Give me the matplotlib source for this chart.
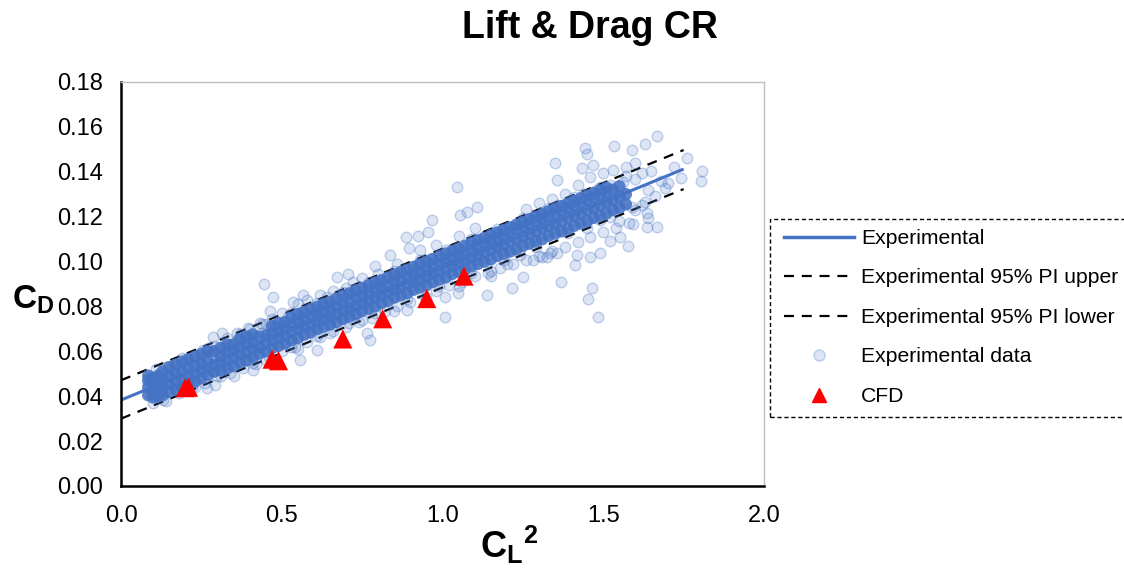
import numpy as np
import matplotlib
matplotlib.use("Agg")
import matplotlib.pyplot as plt
from matplotlib.lines import Line2D
from matplotlib.patches import Rectangle

plt.rcParams["font.family"] = ["Liberation Sans", "DejaVu Sans"]
plt.rcParams["mathtext.fontset"] = "custom"
plt.rcParams["mathtext.rm"] = "Liberation Sans"
plt.rcParams["mathtext.bf"] = "Liberation Sans:bold"

# Regression line and 95% prediction interval (CL^2 -> CD)
fit_x = [0.0, 1.75]
fit_y = [0.0383, 0.1412]
pi_upper_y = [0.0471, 0.1497]
pi_lower_y = [0.0300, 0.1323]

# CFD results
cfd_x = [0.200, 0.210, 0.470, 0.490, 0.690, 0.814, 0.951, 1.067]
cfd_y = [0.0438, 0.0440, 0.0565, 0.0558, 0.0655, 0.0745, 0.0835, 0.0935]

# Experimental data: dense core of the measurements
core_pts = [
    (0.085, 0.0405), (0.085, 0.0440), (0.085, 0.0470), (0.085, 0.0491),
    (0.100, 0.0395), (0.100, 0.0425), (0.100, 0.0455), (0.100, 0.0480),
    (0.115, 0.0400), (0.115, 0.0435), (0.115, 0.0465), (0.115, 0.0490),
    (0.130, 0.0405), (0.130, 0.0440), (0.130, 0.0475), (0.130, 0.0510),
    (0.150, 0.0420), (0.150, 0.0455), (0.150, 0.0490), (0.150, 0.0529),
    (0.170, 0.0430), (0.170, 0.0465), (0.170, 0.0500), (0.170, 0.0541),
    (0.190, 0.0440), (0.190, 0.0475), (0.190, 0.0510), (0.190, 0.0553),
    (0.210, 0.0455), (0.210, 0.0490), (0.210, 0.0525), (0.210, 0.0564),
    (0.230, 0.0465), (0.230, 0.0500), (0.230, 0.0535), (0.230, 0.0576),
    (0.250, 0.0480), (0.250, 0.0515), (0.250, 0.0545), (0.250, 0.0588),
    (0.270, 0.0495), (0.270, 0.0525), (0.270, 0.0555), (0.270, 0.0600),
    (0.290, 0.0510), (0.290, 0.0540), (0.290, 0.0600),
    (0.310, 0.0515), (0.310, 0.0550), (0.310, 0.0580), (0.310, 0.0615),
    (0.330, 0.0525), (0.330, 0.0560), (0.330, 0.0595), (0.330, 0.0630),
    (0.350, 0.0535), (0.350, 0.0570), (0.350, 0.0605), (0.350, 0.0630),
    (0.370, 0.0550), (0.370, 0.0585), (0.370, 0.0620), (0.370, 0.0655),
    (0.390, 0.0560), (0.390, 0.0595), (0.390, 0.0630), (0.390, 0.0665),
    (0.410, 0.0575), (0.410, 0.0610), (0.410, 0.0640), (0.410, 0.0675),
    (0.430, 0.0590), (0.430, 0.0620), (0.430, 0.0665),
    (0.450, 0.0600), (0.450, 0.0635), (0.450, 0.0670),
    (0.470, 0.0615), (0.470, 0.0650), (0.470, 0.0680), (0.470, 0.0712),
    (0.490, 0.0625), (0.490, 0.0660), (0.490, 0.0695), (0.490, 0.0725),
    (0.510, 0.0635), (0.510, 0.0670), (0.510, 0.0705), (0.510, 0.0730),
    (0.530, 0.0650), (0.530, 0.0685), (0.530, 0.0720), (0.530, 0.0750),
    (0.550, 0.0660), (0.550, 0.0700), (0.550, 0.0735), (0.550, 0.0765),
    (0.570, 0.0675), (0.570, 0.0710), (0.570, 0.0745), (0.570, 0.0775),
    (0.590, 0.0685), (0.590, 0.0720), (0.590, 0.0755), (0.590, 0.0788),
    (0.610, 0.0700), (0.610, 0.0735), (0.610, 0.0765), (0.610, 0.0798),
    (0.630, 0.0710), (0.630, 0.0745), (0.630, 0.0780), (0.630, 0.0810),
    (0.650, 0.0720), (0.650, 0.0755), (0.650, 0.0785), (0.650, 0.0820),
    (0.670, 0.0730), (0.670, 0.0765), (0.670, 0.0800), (0.670, 0.0835),
    (0.690, 0.0745), (0.690, 0.0780), (0.690, 0.0815), (0.690, 0.0847),
    (0.710, 0.0755), (0.710, 0.0790), (0.710, 0.0825), (0.710, 0.0858),
    (0.730, 0.0765), (0.730, 0.0800), (0.730, 0.0840), (0.730, 0.0872),
    (0.750, 0.0780), (0.750, 0.0815), (0.750, 0.0850), (0.750, 0.0882),
    (0.770, 0.0790), (0.770, 0.0825), (0.770, 0.0860), (0.770, 0.0894),
    (0.790, 0.0800), (0.790, 0.0840), (0.790, 0.0875), (0.790, 0.0906),
    (0.810, 0.0815), (0.810, 0.0850), (0.810, 0.0885), (0.810, 0.0917),
    (0.830, 0.0825), (0.830, 0.0860), (0.830, 0.0895), (0.830, 0.0929),
    (0.850, 0.0840), (0.850, 0.0875), (0.850, 0.0910), (0.850, 0.0941),
    (0.870, 0.0850), (0.870, 0.0885), (0.870, 0.0920), (0.870, 0.0953),
    (0.890, 0.0860), (0.890, 0.0900), (0.890, 0.0935), (0.890, 0.0964),
    (0.910, 0.0875), (0.910, 0.0910), (0.910, 0.0945), (0.910, 0.0976),
    (0.930, 0.0885), (0.930, 0.0920), (0.930, 0.0955), (0.930, 0.0988),
    (0.950, 0.0895), (0.950, 0.0935), (0.950, 0.0970), (0.950, 0.1000),
    (0.970, 0.0910), (0.970, 0.0945), (0.970, 0.0980), (0.970, 0.1011),
    (0.990, 0.0920), (0.990, 0.0955), (0.990, 0.0990), (0.990, 0.1023),
    (1.010, 0.0930), (1.010, 0.0970), (1.010, 0.1005), (1.010, 0.1035),
    (1.030, 0.0945), (1.030, 0.0980), (1.030, 0.1015), (1.030, 0.1047),
    (1.050, 0.0955), (1.050, 0.0995), (1.050, 0.1030), (1.050, 0.1058),
    (1.070, 0.0965), (1.070, 0.1005), (1.070, 0.1040), (1.070, 0.1070),
    (1.090, 0.0980), (1.090, 0.1015), (1.090, 0.1050), (1.090, 0.1082),
    (1.110, 0.0990), (1.110, 0.1030), (1.110, 0.1065), (1.110, 0.1094),
    (1.130, 0.1000), (1.130, 0.1040), (1.130, 0.1080), (1.130, 0.1105),
    (1.150, 0.1010), (1.150, 0.1055), (1.150, 0.1095), (1.150, 0.1117),
    (1.170, 0.1025), (1.170, 0.1065), (1.170, 0.1105), (1.170, 0.1129),
    (1.190, 0.1035), (1.190, 0.1075), (1.190, 0.1115), (1.190, 0.1141),
    (1.210, 0.1045), (1.210, 0.1090), (1.210, 0.1130), (1.210, 0.1152),
    (1.230, 0.1055), (1.230, 0.1100), (1.230, 0.1145), (1.230, 0.1164),
    (1.250, 0.1070), (1.250, 0.1110), (1.250, 0.1155), (1.250, 0.1176),
    (1.270, 0.1080), (1.270, 0.1125), (1.270, 0.1165), (1.270, 0.1188),
    (1.290, 0.1090), (1.290, 0.1135), (1.290, 0.1180), (1.290, 0.1200),
    (1.310, 0.1100), (1.310, 0.1150), (1.310, 0.1190), (1.310, 0.1211),
    (1.330, 0.1115), (1.330, 0.1160), (1.330, 0.1200), (1.330, 0.1223),
    (1.350, 0.1125), (1.350, 0.1170), (1.350, 0.1215), (1.350, 0.1235),
    (1.370, 0.1135), (1.370, 0.1180), (1.370, 0.1225), (1.370, 0.1247),
    (1.390, 0.1145), (1.390, 0.1195), (1.390, 0.1240), (1.390, 0.1258),
    (1.410, 0.1160), (1.410, 0.1205), (1.410, 0.1250), (1.410, 0.1270),
    (1.430, 0.1170), (1.430, 0.1215), (1.430, 0.1260), (1.430, 0.1282),
    (1.450, 0.1180), (1.450, 0.1230), (1.450, 0.1275), (1.450, 0.1294),
    (1.470, 0.1195), (1.470, 0.1240), (1.470, 0.1285), (1.470, 0.1305),
    (1.490, 0.1205), (1.490, 0.1250), (1.490, 0.1295), (1.490, 0.1317),
    (1.510, 0.1215), (1.510, 0.1265), (1.510, 0.1310), (1.510, 0.1329),
    (1.530, 0.1230), (1.530, 0.1275), (1.530, 0.1320),
    (1.550, 0.1240), (1.550, 0.1290), (1.550, 0.1335),
    (1.570, 0.1255), (1.570, 0.1300),
]

# Experimental data: points around the edge of the band
edge_pts = [
    (0.10, 0.0370), (0.12, 0.0505), (0.14, 0.0380), (0.16, 0.0520),
    (0.18, 0.0415), (0.20, 0.0545), (0.22, 0.0440), (0.24, 0.0565),
    (0.26, 0.0460), (0.28, 0.0590), (0.30, 0.0490), (0.32, 0.0620),
    (0.34, 0.0505), (0.36, 0.0650), (0.38, 0.0525), (0.40, 0.0665),
    (0.42, 0.0545), (0.44, 0.0680), (0.46, 0.0575), (0.48, 0.0715),
    (0.50, 0.0600), (0.52, 0.0755), (0.54, 0.0620), (0.56, 0.0775),
    (0.58, 0.0640), (0.60, 0.0790), (0.62, 0.0665), (0.64, 0.0810),
    (0.66, 0.0690), (0.68, 0.0835), (0.70, 0.0710), (0.72, 0.0860),
    (0.74, 0.0730), (0.76, 0.0880), (0.78, 0.0750), (0.80, 0.0905),
    (0.82, 0.0780), (0.84, 0.0935), (0.86, 0.0800), (0.88, 0.0960),
    (0.90, 0.0820), (0.92, 0.0985), (0.94, 0.0850), (0.96, 0.1010),
    (0.98, 0.0870), (1.00, 0.1030), (1.02, 0.0895), (1.04, 0.1055),
    (1.06, 0.0910), (1.08, 0.1075), (1.10, 0.0935), (1.12, 0.1100),
    (1.14, 0.0950), (1.16, 0.1125), (1.18, 0.0970), (1.20, 0.1150),
    (1.22, 0.0990), (1.24, 0.1175), (1.26, 0.1005), (1.28, 0.1200),
    (1.30, 0.1025), (1.32, 0.1225), (1.34, 0.1045), (1.36, 0.1250),
    (1.38, 0.1065), (1.40, 0.1275), (1.42, 0.1085), (1.44, 0.1300),
    (1.46, 0.1110), (1.48, 0.1320), (1.50, 0.1130), (1.52, 0.1340),
    (1.54, 0.1150), (1.56, 0.1355), (1.58, 0.1170), (1.60, 0.1370),
    (1.62, 0.1250), (1.64, 0.1320), (1.66, 0.1290), (1.68, 0.1360),
    (1.70, 0.1350), (1.72, 0.1420),
    (1.42, 0.1340), (1.46, 0.1375), (1.50, 0.1395), (1.53, 0.1410),
    (1.57, 0.1420), (1.60, 0.1440), (1.62, 0.1395), (1.65, 0.1405),
    (1.55, 0.1180), (1.60, 0.1230), (1.63, 0.1265), (1.52, 0.1200),
    (1.45, 0.1150), (1.38, 0.1300), (1.34, 0.1280), (1.30, 0.1260),
    (1.26, 0.1235), (1.24, 0.1030), (1.20, 0.0990), (1.15, 0.0935),
    (1.10, 0.1150), (1.05, 0.1115), (0.98, 0.1075), (0.93, 0.1050),
    (0.86, 0.0990), (0.80, 0.0945), (0.75, 0.0925), (0.70, 0.0880),
    (0.66, 0.0870), (0.62, 0.0850), (0.58, 0.0830), (0.55, 0.0810),
    (0.50, 0.0770), (0.47, 0.0745), (0.44, 0.0720), (0.40, 0.0700),
    (0.36, 0.0680), (0.33, 0.0660), (0.29, 0.0625), (0.26, 0.0600),
    (0.23, 0.0580), (0.20, 0.0565), (0.17, 0.0545), (0.14, 0.0530),
    (0.35, 0.0490), (0.45, 0.0560), (0.55, 0.0610), (0.65, 0.0680),
    (0.75, 0.0740), (0.85, 0.0780), (0.95, 0.0840), (1.05, 0.0890),
    (1.15, 0.0960),
    (0.11, 0.0523), (0.19, 0.0570), (0.27, 0.0617), (0.37, 0.0676),
    (0.45, 0.0723), (0.53, 0.0770), (0.61, 0.0817), (0.69, 0.0864),
    (0.77, 0.0911), (0.85, 0.0958), (0.93, 0.1005), (1.01, 0.1052),
    (1.09, 0.1099), (1.17, 0.1146), (1.25, 0.1193), (1.33, 0.1240),
    (1.41, 0.1287), (1.49, 0.1334), (1.57, 0.1381),
    (0.13, 0.0384), (0.23, 0.0443), (0.31, 0.0490), (0.41, 0.0549),
    (0.53, 0.0620), (0.61, 0.0667), (0.71, 0.0725), (0.79, 0.0773),
    (0.89, 0.0831), (0.99, 0.0890), (1.09, 0.0949), (1.19, 0.1008),
    (1.29, 0.1067), (1.39, 0.1125), (1.49, 0.1184), (1.59, 0.1243),
]

# Experimental data: isolated measurements
outlier_pts = [
    (0.966, 0.1185), (0.955, 0.1133), (0.886, 0.1111), (0.924, 0.1114),
    (0.896, 0.1060), (0.837, 0.1030), (0.790, 0.0982), (0.672, 0.0933),
    (0.705, 0.0945), (0.722, 0.0910), (0.445, 0.0900), (0.472, 0.0844),
    (0.463, 0.0781), (0.566, 0.0851), (0.535, 0.0821), (0.395, 0.0704),
    (0.286, 0.0665), (0.313, 0.0682), (0.255, 0.0606), (0.432, 0.0726),
    (0.764, 0.0682), (0.774, 0.0651), (1.008, 0.0754), (1.008, 0.0844),
    (0.557, 0.0561), (0.411, 0.0517), (0.292, 0.0450), (0.267, 0.0435),
    (0.391, 0.0561), (0.609, 0.0606), (0.640, 0.0844),
    (1.666, 0.1560), (1.630, 0.1524), (1.534, 0.1515), (1.588, 0.1497),
    (1.443, 0.1505), (1.448, 0.1478), (1.351, 0.1441), (1.355, 0.1364),
    (1.469, 0.1430), (1.433, 0.1416), (1.760, 0.1463), (1.806, 0.1404),
    (1.804, 0.1360), (1.741, 0.1371), (1.692, 0.1327), (1.635, 0.1215),
    (1.640, 0.1193), (1.666, 0.1153), (1.635, 0.1153), (1.594, 0.1168),
    (1.552, 0.1111), (1.578, 0.1070), (1.521, 0.1093), (1.490, 0.1037),
    (1.459, 0.1022), (1.417, 0.1029), (1.412, 0.0985), (1.368, 0.0910),
    (1.464, 0.0884), (1.452, 0.0833), (1.483, 0.0752), (1.046, 0.1331),
    (1.106, 0.1245), (1.054, 0.1208), (1.075, 0.1222), (1.251, 0.0933),
    (1.215, 0.0881), (1.137, 0.0851), (0.889, 0.0784), (1.049, 0.0859),
    (1.324, 0.1022), (1.355, 0.1037), (1.282, 0.1007), (1.334, 0.1037),
    (1.309, 0.1022),
]

x_ticks = [0.0, 0.5, 1.0, 1.5, 2.0]
y_ticks = [0.00, 0.02, 0.04, 0.06, 0.08, 0.10, 0.12, 0.14, 0.16, 0.18]

BLUE = "#4472C4"
RED = "#FF0000"
W, H = 1124, 568

fig = plt.figure(figsize=(W / 100, H / 100), dpi=100)
ax = fig.add_axes([121 / W, (H - 486) / H, (764 - 121) / W, (486 - 82) / H])

# fit and prediction interval
ax.plot(fit_x, fit_y, color=BLUE, lw=2.2, solid_capstyle="butt", zorder=2)
ax.plot(fit_x, pi_upper_y, color="black", lw=1.6, dashes=(4.5, 3.5), zorder=2)
ax.plot(fit_x, pi_lower_y, color="black", lw=1.6, dashes=(4.5, 3.5), zorder=2)

# experimental scatter
rgb = (0x44 / 255, 0x72 / 255, 0xC4 / 255)
light_face = rgb + (0.18,)
light_edge = rgb + (0.30,)
cx, cy = np.array(core_pts).T
ex, ey = np.array(edge_pts).T
ox, oy = np.array(outlier_pts).T
ax.scatter(np.concatenate([ex, ox]), np.concatenate([ey, oy]), s=58,
           facecolor=light_face, edgecolor=light_edge, linewidth=1.0, zorder=3)
ax.scatter(cx, cy, s=82, facecolor=rgb + (0.88,), edgecolor="none", zorder=3)

# CFD
ax.scatter(cfd_x, cfd_y, marker="^", s=190, color=RED, edgecolor="none", zorder=5)

ax.set_xlim(0, 2.0)
ax.set_ylim(0, 0.18)
ax.set_xticks(x_ticks)
ax.set_yticks(y_ticks)
ax.set_xticklabels([f"{v:.1f}" for v in x_ticks])
ax.set_yticklabels([f"{v:.2f}" for v in y_ticks])
ax.tick_params(length=0, labelsize=17, colors="black")
ax.tick_params(axis="y", pad=13)
ax.tick_params(axis="x", pad=14)
for side in ("left", "bottom"):
    ax.spines[side].set_color("black")
    ax.spines[side].set_linewidth(1.8)
for side in ("top", "right"):
    ax.spines[side].set_color("#bfbfbf")
    ax.spines[side].set_linewidth(1.0)

# titles and axis labels
fig.text(590 / W, 1 - 28 / H, "Lift & Drag CR", ha="center", va="center",
         fontsize=27, fontweight="bold")
fig.text(12 / W, 1 - 300 / H, r"$\mathbf{C_D}$", ha="left", va="center", fontsize=24)
fig.text(509 / W, 1 - 545 / H, r"$\mathbf{C_L}^{\mathbf{2}}$", ha="center", va="center",
         fontsize=26)

# legend frame running off the right edge
fig.patches.append(Rectangle((770 / W, (H - 417) / H), 400 / W, 198 / H,
                             transform=fig.transFigure, fill=False,
                             edgecolor="black", lw=1.0, linestyle=(0, (3, 2))))

handles = [
    Line2D([], [], color=BLUE, lw=2.5),
    Line2D([], [], color="black", lw=1.6, dashes=(4.5, 3.5)),
    Line2D([], [], color="black", lw=1.6, dashes=(4.5, 3.5)),
    Line2D([], [], ls="none", marker="o", markersize=8, markerfacecolor=light_face,
           markeredgecolor=light_edge),
    Line2D([], [], ls="none", marker="^", markersize=10, color=RED),
]
labels = ["Experimental", "Experimental 95% PI upper", "Experimental 95% PI lower",
          "Experimental data", "CFD"]
fig.legend(handles, labels, loc="upper left", bbox_to_anchor=(784 / W, 1 - 229 / H),
           frameon=False, fontsize=15.2, handlelength=3.3, handletextpad=0.35,
           labelspacing=0.97, borderaxespad=0, borderpad=0)

fig.savefig("out.png", dpi=100)
